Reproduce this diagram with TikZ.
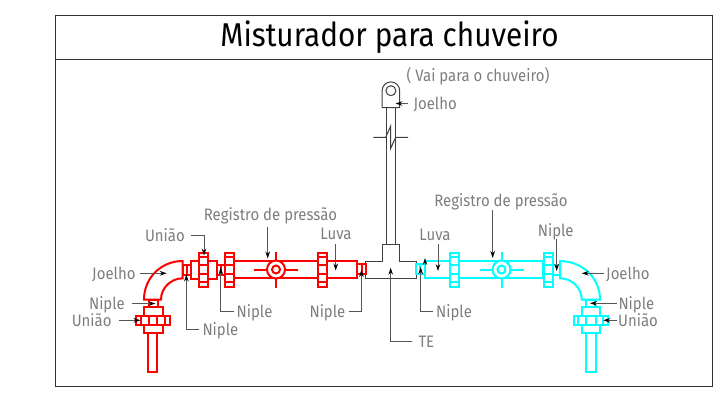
\documentclass[tikz,border=0pt]{standalone}
\usepackage{fontspec}
\setmainfont[FakeStretch=0.9]{Fira Sans}
\usetikzlibrary{arrows.meta}
\definecolor{lbl}{RGB}{125,125,125}
\definecolor{ldc}{RGB}{85,85,85}
\definecolor{cy}{RGB}{0,255,255}
\tikzset{
  x=1pt,y=-1pt,
  frame/.style={draw=black!80,line width=1pt},
  pipe/.style={line width=2pt,fill=white,line join=miter},
  dpipe/.style={draw=black!75,line width=1pt,fill=white},
  brk/.style={draw=black!75,line width=1pt},
  lab/.style={text=lbl,font=\fontsize{16.6}{18}\selectfont,inner sep=0pt,text height=12pt,text depth=0pt},
  tip/.style={-{Stealth[length=7pt,width=4.6pt,black]},draw=ldc,line width=0.9pt},
}
\newcommand{\vnut}[1]{%
  \draw (#1,252.5) rectangle ++(9,34.5);
  \draw[fill=none] (#1,257) -- ++(9,0) (#1,264.5) -- ++(9,0) (#1,273.5) -- ++(9,0) (#1,282) -- ++(9,0);
}
\newcommand{\valve}[1]{%
  \draw[fill=none] (#1-22,269.5) -- (#1+22,269.5) (#1,252) -- (#1,287.5);
  \draw (#1,269.5) circle (9);
  \draw (#1,269.5) circle (4);
}
\begin{document}
\begin{tikzpicture}
\useasboundingbox (0,0) rectangle (718,407);
\draw[frame] (55,15) rectangle (712,386);
\draw[frame] (55,59) -- (712,59);
\node[inner sep=0pt,font=\fontsize{33}{35}\selectfont,text height=23pt,text depth=0pt] (title) at (389.5,35) {Misturador para chuveiro};

% ---- black riser
\draw[dpipe] (386.7,107) rectangle (395,244);
\draw[dpipe] (382.1,90.7) arc[start angle=180,end angle=360,radius=8.8] -- (399.7,107.7) -- (382.1,107.7) -- cycle;
\draw[dpipe] (390.9,90.7) circle (5);
\draw[brk] (373.3,137.3) -- (385.7,137.3) -- (390.7,126) -- (390.7,148.3) -- (395.7,137.3) -- (408,137.3);
% ---- tee
\draw[dpipe] (365.7,261) -- (382.7,261) -- (382.7,244) -- (399.3,244) -- (399.3,261) -- (416.7,261) -- (416.7,278.3) -- (365.7,278.3) -- cycle;

% ---- red
\begin{scope}[every path/.style={pipe,draw=red}]
\draw (148.3,371.7) rectangle (156.7,333);
\draw (144,333) rectangle (162.7,307.3);
\draw (135.7,316) rectangle (170,325);
\draw[fill=none] (140.7,316) -- (140.7,325) (149,316) -- (149,325) (156.7,316) -- (156.7,325) (165,316) -- (165,325);
\draw (149.3,300) rectangle (158.3,307.3);
\draw (182.7,261) .. controls (161,261) and (144,278) .. (144,299.5) -- (161,299.5) .. controls (161,288) and (171,278.3) .. (182.7,278.3) -- cycle;
\draw (183,265) rectangle (190.5,275);
\draw[fill=none] (186.7,265) -- (186.7,275);
\draw (190.7,261) rectangle (216.7,279);
\vnut{199.3}
\draw (216.7,265) rectangle (225,275);
\draw[fill=none] (220.8,265) -- (220.8,275);
\vnut{225}
\draw (234,261) rectangle (318,278.3);
\vnut{318}
\draw (327,261) rectangle (357.3,278.3);
\draw (357.3,264.3) rectangle (366,274);
\draw[fill=none] (361.5,264.3) -- (361.5,274);
\valve{276}
\end{scope}

% ---- cyan
\begin{scope}[every path/.style={pipe,draw=cy}]
\draw (586,371.7) rectangle (595.7,333);
\draw (581.7,333) rectangle (600,307.3);
\draw (574,316) rectangle (608.3,325);
\draw[fill=none] (578,316) -- (578,325) (586,316) -- (586,325) (595.7,316) -- (595.7,325) (603.3,316) -- (603.3,325);
\draw (585.7,300) rectangle (595,307.3);
\draw (560,261) .. controls (582,261) and (600,278) .. (600,299.5) -- (581.7,299.5) .. controls (581.7,288) and (572,278.3) .. (560,278.3) -- cycle;
\draw (552.7,265) rectangle (560,275);
\draw (416.3,264.3) rectangle (424.5,274);
\draw[fill=none] (420.3,264.3) -- (420.3,274);
\draw (424.7,261) rectangle (543.3,278.3);
\vnut{450.2}
\vnut{543.6}
\valve{501.5}
\end{scope}

% ---- labels
\node[lab,anchor=center] (vai) at (478,75) {( Vai para o chuveiro)};
\node[lab,anchor=west] (j0) at (413.3,103.5) {Joelho};
\coordinate (j0t) at (395.5,103.5);
\draw[tip] ([xshift=-5pt]j0.west) -- (j0t);

\node[lab] (rl) at (270.5,214) {Registro de pressão};
\coordinate (rlt) at (267.7,258.5);
\draw[tip] (267.7,227) -- (rlt);
\node[lab,anchor=east] (ul) at (185,235) {União};
\coordinate (ult) at (204,255.5);
\draw[tip] ([xshift=6pt]ul.east) -| (ult);
\node[lab,anchor=east] (jl) at (135.7,273.3) {Joelho};
\coordinate (jlt) at (166.7,273.3);
\draw[tip] ([xshift=4.5pt]jl.east) -- (jlt);
\node[lab,anchor=east] (nl1) at (125,303.5) {Niple};
\coordinate (nl1t) at (155.5,303.5);
\draw[tip] ([xshift=6.5pt]nl1.east) -- (nl1t);
\node[lab,anchor=east] (ul2) at (111.7,320.3) {União};
\coordinate (ul2t) at (140.5,320.3);
\draw[tip] ([xshift=7pt]ul2.east) -- (ul2t);
\node[lab,anchor=west] (nl2) at (202.3,329) {Niple};
\coordinate (nl2t) at (186.4,274.5);
\draw[tip] ([xshift=-3pt]nl2.west) -| (nl2t);
\node[lab,anchor=west] (nl3) at (236.5,311.7) {Niple};
\coordinate (nl3t) at (220.8,267.5);
\draw[tip] ([xshift=-2.5pt]nl3.west) -| (nl3t);
\node[lab,anchor=east] (nl4) at (345.5,311.7) {Niple};
\coordinate (nl4t) at (361.4,270);
\draw[tip] ([xshift=3pt]nl4.east) -| (nl4t);
\node[lab] (lv1) at (336,233) {Luva};
\coordinate (lv1t) at (335.7,270.5);
\draw[tip] (335.7,244) -- (lv1t);
\node[lab,anchor=west] (te) at (418.3,341.7) {TE};
\coordinate (tet) at (390.7,267.7);
\draw[tip] ([xshift=-6pt]te.west) -| (tet);
\node[lab] (lv2) at (435,234) {Luva};
\coordinate (lv2t) at (438,271);
\draw[tip] (438,244.3) -- (lv2t);
\coordinate (lv3t) at (425,258);
\draw[tip] (425,264.5) -- (lv3t);
\node[lab,anchor=west] (nr1) at (436,311.7) {Niple};
\coordinate (nr1t) at (420.7,267);
\draw[tip] ([xshift=-2.7pt]nr1.west) -| (nr1t);
\node[lab] (rr) at (501,200) {Registro de pressão};
\coordinate (rrt) at (492.7,258);
\draw[tip] (492.7,210) -- (rrt);
\node[lab] (nr2) at (555.7,230) {Niple};
\coordinate (nr2t) at (556.7,271);
\draw[tip] (556.7,239.3) -- (nr2t);
\node[lab,anchor=west] (jr) at (606,273.3) {Joelho};
\coordinate (jrt) at (581.7,273.3);
\draw[tip] ([xshift=-2pt]jr.west) -- (jrt);
\node[lab,anchor=west] (nr3) at (618.3,303.3) {Niple};
\coordinate (nr3t) at (590,303.3);
\draw[tip] ([xshift=-1.6pt]nr3.west) -- (nr3t);
\node[lab,anchor=west] (ur) at (618,320.3) {União};
\coordinate (urt) at (603.3,320.3);
\draw[tip] ([xshift=-1.3pt]ur.west) -- (urt);
\end{tikzpicture}
\end{document}
